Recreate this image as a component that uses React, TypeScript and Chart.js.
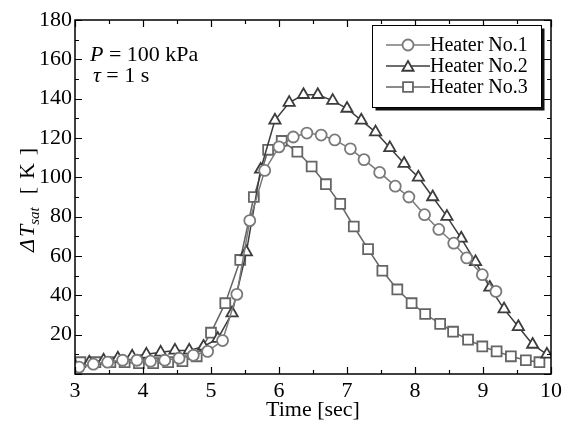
import React, { useEffect, useRef } from 'react';
import { Chart, registerables } from 'chart.js';

Chart.register(...registerables);

const FONT = "'Liberation Serif', 'Times New Roman', serif";
Chart.defaults.font.family = FONT;
Chart.defaults.color = '#000';

// Heater No.1 (circles)
const h1Time = [3.06, 3.27, 3.48, 3.70, 3.91, 4.11, 4.32, 4.53, 4.74, 4.95, 5.17, 5.38, 5.57, 5.79, 6.00, 6.21, 6.41, 6.62, 6.82, 7.05, 7.25, 7.48, 7.71, 7.91, 8.14, 8.35, 8.57, 8.76, 8.99, 9.19];
const h1Temp = [3.5, 5, 6, 7, 7, 6.5, 7, 8, 9.5, 11.5, 17, 40.5, 78, 103.5, 115.5, 120.5, 122.5, 121.5, 119, 114.5, 109, 102.5, 95.5, 90, 81, 73.5, 66.5, 59, 50.5, 42];

// Heater No.2 (triangles)
const h2Time = [3.00, 3.21, 3.42, 3.63, 3.84, 4.05, 4.26, 4.47, 4.68, 4.89, 5.10, 5.31, 5.52, 5.73, 5.94, 6.15, 6.36, 6.57, 6.79, 7.00, 7.21, 7.42, 7.63, 7.84, 8.05, 8.26, 8.47, 8.68, 8.89, 9.10, 9.31, 9.52, 9.73, 9.94];
const h2Temp = [4, 6, 7, 8, 9, 10, 11, 12, 12, 14, 18, 31, 62, 104, 129, 138, 142, 142, 139, 135, 129, 123, 115, 107, 100, 90, 80, 69, 57, 44, 33, 24, 15, 10];

// Heater No.3 (squares)
const h3Time = [3.08, 3.30, 3.52, 3.73, 3.94, 4.15, 4.37, 4.58, 4.79, 5.00, 5.21, 5.43, 5.63, 5.84, 6.04, 6.27, 6.48, 6.69, 6.90, 7.10, 7.31, 7.52, 7.74, 7.95, 8.15, 8.37, 8.56, 8.78, 8.99, 9.20, 9.41, 9.63, 9.83];
const h3Temp = [6, 6, 6, 6, 5.5, 5.5, 6, 6.5, 9, 21, 36, 58, 90, 114, 118.5, 113, 105.5, 96.5, 86.5, 75, 63.5, 52.5, 43, 36, 30.5, 25.5, 21.5, 17.5, 14, 11.5, 9, 7, 6];

const seriesNames = ['Heater No.1', 'Heater No.2', 'Heater No.3'];
const seriesColors = ['#7a7a7a', '#3c3c3c', '#656565'];
const seriesStyles = ['circle', 'triangle', 'rect'];
const seriesRadius = [5.5, 6.5, 7];

const xMin = 3, xMax = 10, xStep = 1, xMinor = 0.5;
const yMin = 0, yMax = 180, yStep = 20, yMinor = 10;

const xTitle = 'Time [sec]';
const yTitleParts = ['Δ', 'T', 'sat', '[', 'K', ']'];
const noteP = ['P', ' = 100 kPa'];
const noteTau = ['τ', ' = 1 s'];

function pts(t: number[], v: number[]) {
  return t.map((x, i) => ({ x, y: v[i] }));
}

function drawMarker(ctx: CanvasRenderingContext2D, style: string, x: number, y: number, r: number) {
  ctx.beginPath();
  if (style === 'circle') {
    ctx.arc(x, y, r, 0, Math.PI * 2);
  } else if (style === 'triangle') {
    let rad = 0;
    ctx.moveTo(x + Math.sin(rad) * r, y - Math.cos(rad) * r);
    rad += (2 * Math.PI) / 3;
    ctx.lineTo(x + Math.sin(rad) * r, y - Math.cos(rad) * r);
    rad += (2 * Math.PI) / 3;
    ctx.lineTo(x + Math.sin(rad) * r, y - Math.cos(rad) * r);
    ctx.closePath();
  } else {
    const s = Math.SQRT1_2 * r;
    ctx.rect(x - s, y - s, 2 * s, 2 * s);
  }
  ctx.fill();
  ctx.stroke();
}

const decorPlugin = {
  id: 'decor',
  afterDatasetsDraw(chart: any) {
    const { ctx, chartArea: a, scales } = chart;
    const x = scales.x, y = scales.y;
    ctx.save();
    // frame
    ctx.strokeStyle = '#000';
    ctx.lineWidth = 1.5;
    ctx.strokeRect(a.left, a.top, a.right - a.left, a.bottom - a.top);
    // inward ticks on all four sides
    ctx.lineWidth = 1.2;
    ctx.beginPath();
    for (let v = xMin; v <= xMax + 1e-6; v += xMinor) {
      const px = Math.round(x.getPixelForValue(v)) + 0.5;
      const major = Math.abs(v / xStep - Math.round(v / xStep)) < 1e-6;
      const len = major ? 7 : 4;
      ctx.moveTo(px, a.bottom); ctx.lineTo(px, a.bottom - len);
      ctx.moveTo(px, a.top); ctx.lineTo(px, a.top + len);
    }
    for (let v = yMin; v <= yMax + 1e-6; v += yMinor) {
      const py = Math.round(y.getPixelForValue(v)) + 0.5;
      const major = Math.abs(v / yStep - Math.round(v / yStep)) < 1e-6;
      const len = major ? 7 : 4;
      ctx.moveTo(a.left, py); ctx.lineTo(a.left + len, py);
      ctx.moveTo(a.right, py); ctx.lineTo(a.right - len, py);
    }
    ctx.stroke();

    // annotation text
    ctx.fillStyle = '#000';
    ctx.textBaseline = 'alphabetic';
    ctx.textAlign = 'left';
    ctx.font = `italic 22px ${FONT}`;
    let tx = a.left + 15;
    ctx.fillText(noteP[0], tx, 61);
    tx += ctx.measureText(noteP[0]).width;
    ctx.font = `22px ${FONT}`;
    ctx.fillText(noteP[1], tx, 61);
    ctx.font = `italic 22px ${FONT}`;
    tx = a.left + 18;
    ctx.fillText(noteTau[0], tx, 82);
    tx += ctx.measureText(noteTau[0]).width;
    ctx.font = `22px ${FONT}`;
    ctx.fillText(noteTau[1], tx, 82);

    // legend box with shadow
    const lx = 372, ly = 25, lw = 169, lh = 82;
    ctx.fillStyle = '#111';
    ctx.fillRect(lx + 3.5, ly + 3.5, lw, lh);
    ctx.fillStyle = '#fff';
    ctx.fillRect(lx, ly, lw, lh);
    ctx.strokeStyle = '#000';
    ctx.lineWidth = 1;
    ctx.strokeRect(lx + 0.5, ly + 0.5, lw, lh);
    const rows = [45, 66, 87];
    for (let i = 0; i < 3; i++) {
      const ry = rows[i];
      ctx.strokeStyle = seriesColors[i];
      ctx.lineWidth = 1.5;
      ctx.beginPath();
      ctx.moveTo(386, ry); ctx.lineTo(430, ry);
      ctx.stroke();
      ctx.fillStyle = '#fff';
      ctx.lineWidth = 1.8;
      drawMarker(ctx, seriesStyles[i], 408, ry + (seriesStyles[i] === 'triangle' ? 1.5 : 0), seriesRadius[i]);
      ctx.fillStyle = '#000';
      ctx.font = `20px ${FONT}`;
      ctx.textBaseline = 'middle';
      ctx.fillText(seriesNames[i], 430, ry + 1);
    }

    // y axis title: ΔT_sat [ K ]
    ctx.translate(33.5, 252);
    ctx.rotate(-Math.PI / 2);
    ctx.fillStyle = '#000';
    ctx.textBaseline = 'alphabetic';
    ctx.font = `italic 22px ${FONT}`;
    let u = 0;
    ctx.fillText(yTitleParts[0], u, 0);
    u += ctx.measureText(yTitleParts[0]).width + 2;
    ctx.fillText(yTitleParts[1], u, 0);
    u += ctx.measureText(yTitleParts[1]).width;
    ctx.font = `italic 15px ${FONT}`;
    ctx.fillText(yTitleParts[2], u, 5);
    u += ctx.measureText(yTitleParts[2]).width + 13;
    ctx.font = `22px ${FONT}`;
    ctx.fillText(yTitleParts[3], u, 0);
    u += ctx.measureText(yTitleParts[3]).width + 8;
    ctx.fillText(yTitleParts[4], u, 0);
    u += ctx.measureText(yTitleParts[4]).width + 8;
    ctx.fillText(yTitleParts[5], u, 0);
    ctx.restore();
  },
};

const whiteBg = {
  id: 'whiteBg',
  beforeDraw(chart: any) {
    const { ctx, width, height } = chart;
    ctx.save();
    ctx.fillStyle = '#fff';
    ctx.fillRect(0, 0, width, height);
    ctx.restore();
  },
};

export default function App() {
  const ref = useRef<HTMLCanvasElement>(null);
  useEffect(() => {
    if (!ref.current) return;
    const mk = (i: number, data: { x: number; y: number }[]) => ({
      label: seriesNames[i],
      data,
      borderColor: seriesColors[i],
      backgroundColor: '#fff',
      borderWidth: 1.5,
      pointStyle: seriesStyles[i],
      pointRadius: seriesRadius[i],
      pointBorderWidth: 1.8,
      pointBorderColor: seriesColors[i],
      pointBackgroundColor: '#fff',
      tension: 0,
      fill: false,
    });
    const tickFont = { family: FONT, size: 22, style: 'normal' as const, weight: 'normal' as const };
    const chart = new Chart(ref.current, {
      type: 'line',
      data: {
        datasets: [
          mk(0, pts(h1Time, h1Temp)),
          mk(1, pts(h2Time, h2Temp)),
          mk(2, pts(h3Time, h3Temp)),
        ],
      },
      options: {
        animation: false,
        responsive: false,
        maintainAspectRatio: false,
        font: { family: FONT },
        layout: { padding: { top: 20, right: 19, left: 0, bottom: 0 } },
        plugins: { legend: { display: false }, tooltip: { enabled: false } },
        scales: {
          x: {
            type: 'linear',
            min: xMin,
            max: xMax,
            grid: { display: false, drawTicks: false },
            border: { display: false },
            ticks: { stepSize: xStep, padding: 4, color: '#000', font: tickFont },
            title: { display: true, text: xTitle, color: '#000', font: { family: FONT, size: 22 }, padding: { top: 0, bottom: 9 } },
            afterFit: (s: any) => { s.height = 58; },
          },
          y: {
            type: 'linear',
            min: yMin,
            max: yMax,
            grid: { display: false, drawTicks: false },
            border: { display: false },
            ticks: {
              stepSize: yStep,
              padding: 3,
              color: '#000',
              font: tickFont,
              callback: (v: any) => (v === 0 ? '' : String(v)),
            },
            afterFit: (s: any) => { s.width = 75; },
          },
        },
      },
      plugins: [whiteBg, decorPlugin],
    } as any);
    return () => chart.destroy();
  }, []);
  return (
    <div style={{ position: 'absolute', left: 0, top: 0, width: 570, height: 432, background: '#fff' }}>
      <canvas ref={ref} width={570} height={432} />
    </div>
  );
}
